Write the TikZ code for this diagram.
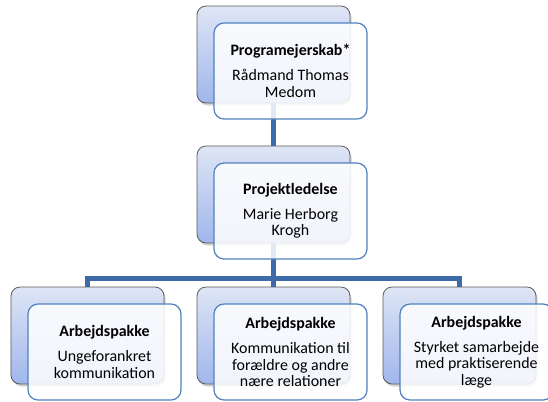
\documentclass[tikz,border=0pt]{standalone}
\usepackage{fontspec}
\setmainfont{Carlito}
\usetikzlibrary{shadows}
\definecolor{linkblue}{RGB}{62,106,170}
\definecolor{frameblue}{RGB}{79,129,189}
\definecolor{backtop}{RGB}{222,229,245}
\definecolor{backbot}{RGB}{160,182,236}
\definecolor{backedge}{RGB}{90,90,90}
\tikzset{
  backbox/.style={rectangle, rounded corners=9bp, draw=backedge, line width=0.8bp,
    top color=backtop, bottom color=backbot,
    minimum width=153bp, minimum height=97bp, inner sep=0pt,
    drop shadow={opacity=0.35, shadow xshift=1.5bp, shadow yshift=-2.5bp}},
  frontbox/.style={rectangle, rounded corners=10bp, draw=frameblue, line width=1.2bp,
    fill=white, fill opacity=0.86, text opacity=1,
    minimum width=153bp, minimum height=96bp, inner sep=2bp,
    align=center, font=\fontsize{16}{16.5}\selectfont},
  conn/.style={draw=linkblue, line width=5bp, line join=miter}
}
\newcommand{\boxtitle}[1]{{\bfseries #1}\\[8.5bp]}
\begin{document}
\begin{tikzpicture}[x=1bp,y=-1bp]
\useasboundingbox (0,0) rectangle (548,401);
% back cards
\node[backbox] (pb) at (273.5,54.5) {};
\node[backbox] (mb) at (273.5,194.5) {};
\node[backbox] (ab) at (87.5,335.5) {};
\node[backbox] (bb) at (273.5,335.5) {};
\node[backbox] (cb) at (459.5,335.5) {};
% connectors
\draw[conn] (pb.south) -- (mb.north);
\draw[conn] (mb.south) -- ++(0,35) coordinate (j);
\draw[conn] (ab.north) |- (j) -| (cb.north);
\draw[conn] (j) -- (bb.north);
% front cards
\node[frontbox] (pf) at (290.5,71) {\boxtitle{Programejerskab*}Rådmand Thomas\\Medom};
\node[frontbox] (mf) at (290.5,211) {\boxtitle{Projektledelse}Marie Herborg\\Krogh};
\node[frontbox] (af) at (104.5,352) {\boxtitle{Arbejdspakke}Ungeforankret\\kommunikation};
\node[frontbox] (bf) at (290.5,352) {\boxtitle{Arbejdspakke}Kommunikation til\\forældre og andre\\nære relationer};
\node[frontbox] (cf) at (476.5,352) {\boxtitle{Arbejdspakke}Styrket samarbejde\\med praktiserende\\læge};
\end{tikzpicture}
\end{document}
